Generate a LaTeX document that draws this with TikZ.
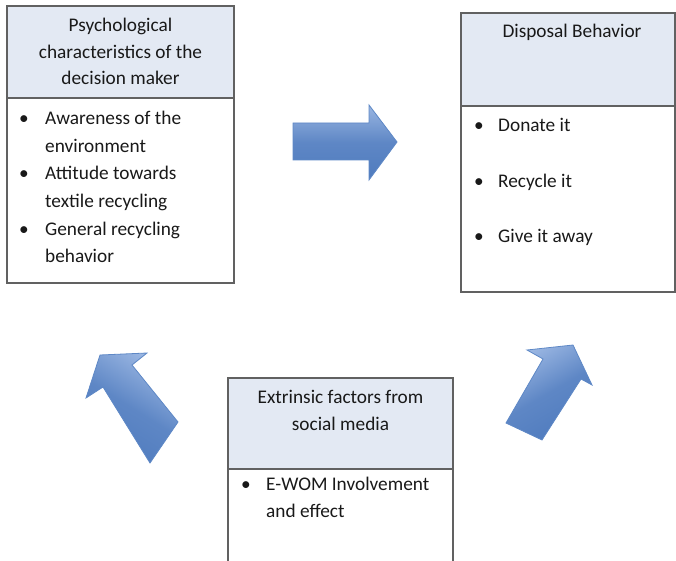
\documentclass[tikz,border=0pt]{standalone}
\usepackage{fontspec}
\setmainfont{Carlito}
\begin{document}
\begin{tikzpicture}[x=1pt,y=-1pt,
  boxline/.style={draw=black!62,line width=1.3pt},
  panel/.style={boxline,rectangle,inner sep=0pt,outer sep=0pt},
  headpanel/.style={rectangle,fill=headblue,inner sep=0pt,outer sep=0pt},
  txt/.style={inner sep=0pt,anchor=base west,text=black!90,font=\fontsize{19.3}{22}\selectfont},
  ctxt/.style={inner sep=0pt,anchor=base,text=black!90,font=\fontsize{19.3}{22}\selectfont},
  blockarrow/.style={draw=arrowedge,line width=0.8pt,line join=miter,
    top color=arrowlight,bottom color=arrowdark,middle color=arrowdark!80!arrowlight}
]
\definecolor{headblue}{HTML}{E3E9F3}
\definecolor{arrowedge}{HTML}{5E88C6}
\definecolor{arrowlight}{HTML}{9AB6E2}
\definecolor{arrowdark}{HTML}{4F7BBE}
\useasboundingbox (0,0) rectangle (676,561);

% ---- Box 1: Psychological characteristics
\node[headpanel,minimum width=227pt,minimum height=92pt] (hd1) at (120.5,52) {};
\node[panel,minimum width=227pt,minimum height=277pt] (b1) at (120.5,144.5) {};
\draw[boxline] (hd1.south west) -- (hd1.south east);
\node[ctxt] (h1a) at (120.5,32) {Psychological};
\node[ctxt] (h1b) at (120.5,58.5) {characteristics of the};
\node[ctxt] (h1c) at (120.5,85) {decision maker};
\node[txt] (p1) at (19,125) {•};
\node[txt] (p1a) at (45,125) {Awareness of the};
\node[txt] (p1b) at (45,152.5) {environment};
\node[txt] (p2) at (19,180) {•};
\node[txt] (p2a) at (45,180) {Attitude towards};
\node[txt] (p2b) at (45,207.5) {textile recycling};
\node[txt] (p3) at (19,235) {•};
\node[txt] (p3a) at (45,235) {General recycling};
\node[txt] (p3b) at (45,262.5) {behavior};

% ---- Box 2: Disposal Behavior
\node[headpanel,minimum width=214pt,minimum height=93pt] (hd2) at (568,59.5) {};
\node[panel,minimum width=214pt,minimum height=279pt] (b2) at (568,152.5) {};
\draw[boxline] (hd2.south west) -- (hd2.south east);
\node[ctxt] (h2) at (572,38) {Disposal Behavior};
\node[txt] (d1) at (474,132) {•};
\node[txt] (d1a) at (498,132) {Donate it};
\node[txt] (d2) at (474,188) {•};
\node[txt] (d2a) at (498,188) {Recycle it};
\node[txt] (d3) at (474,242.5) {•};
\node[txt] (d3a) at (498,242.5) {Give it away};

% ---- Box 3: Extrinsic factors (runs past the bottom edge)
\node[headpanel,minimum width=225pt,minimum height=91pt] (hd3) at (340.5,423.5) {};
\node[panel,minimum width=225pt,minimum height=200pt] (b3) at (340.5,478) {};
\draw[boxline] (hd3.south west) -- (hd3.south east);
\node[ctxt] (h3a) at (340.5,403) {Extrinsic factors from};
\node[ctxt] (h3b) at (340.5,430) {social media};
\node[txt] (e1) at (241,490) {•};
\node[txt] (e1a) at (266,490) {E-WOM Involvement};
\node[txt] (e1b) at (266,517) {and effect};

% ---- Block arrows
\path[blockarrow]
  (293,123) -- (369,123) -- (369,105) -- (397,142) -- (369,180) -- (369,160) -- (293,160) -- cycle;
\path[blockarrow,shading angle=-32]
  (100,355) -- (147,353) -- (132,365) -- (178,422) -- (150,463) -- (103,387) -- (86,398) -- cycle;
\path[blockarrow,shading angle=30]
  (573,345) -- (592,385) -- (581,379) -- (542,440) -- (506,423) -- (543,359) -- (527,350) -- cycle;
\end{tikzpicture}
\end{document}
